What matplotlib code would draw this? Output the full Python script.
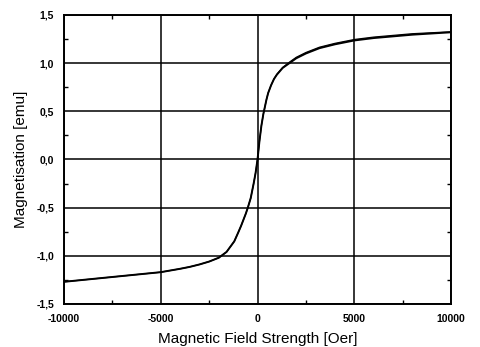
import numpy as np
import matplotlib
matplotlib.use("Agg")
import matplotlib.pyplot as plt
from matplotlib.ticker import FuncFormatter, MultipleLocator

# field (Oer) and magnetisation (emu)
field = [-10000, -8000, -6000, -5000, -4000, -3500, -3000, -2500, -2000, -1600,
         -1200, -1000, -850, -600, -500, -350, -200, -100, 0, 100, 200, 300,
         460, 550, 700, 850, 1000, 1300, 1650, 2000, 2500, 3200, 4000, 5000,
         6000, 8000, 10000]
m_up = [-1.27, -1.23, -1.19, -1.17, -1.135, -1.115, -1.09, -1.06, -1.02, -0.96,
        -0.85, -0.76, -0.69, -0.56, -0.50, -0.40, -0.25, -0.14, 0.0, 0.19, 0.35, 0.47,
        0.62, 0.69, 0.77, 0.835, 0.88, 0.95, 1.00, 1.05, 1.10, 1.155, 1.195, 1.235,
        1.26, 1.295, 1.32]
m_down = [-1.27, -1.23, -1.19, -1.17, -1.135, -1.115, -1.09, -1.06, -1.02, -0.96,
          -0.85, -0.76, -0.69, -0.56, -0.50, -0.40, -0.25, -0.14, 0.0, 0.19, 0.35, 0.47,
          0.62, 0.69, 0.77, 0.835, 0.885, 0.955, 1.01, 1.06, 1.11, 1.165, 1.205, 1.245,
          1.27, 1.305, 1.325]

plt.rcParams['font.family'] = ['Liberation Sans', 'DejaVu Sans']

fig = plt.figure(figsize=(4.8, 3.47), dpi=100)
ax = fig.add_axes([0.133, 0.124, 0.807, 0.833])

ax.plot(field, m_up, color='black', lw=1.4)
ax.plot(field, m_down, color='black', lw=0.9)

ax.set_xlim(-10000, 10000)
ax.set_ylim(-1.5, 1.5)
ax.set_xticks([-10000, -5000, 0, 5000, 10000])
ax.set_yticks([-1.5, -1.0, -0.5, 0.0, 0.5, 1.0, 1.5])
ax.xaxis.set_minor_locator(MultipleLocator(2500))
ax.yaxis.set_minor_locator(MultipleLocator(0.25))
ax.yaxis.set_major_formatter(FuncFormatter(lambda v, p: f"{v:.1f}".replace('.', ',')))
ax.xaxis.set_major_formatter(FuncFormatter(lambda v, p: f"{v:.0f}"))

ax.grid(True, which='major', color='black', lw=1.1)
ax.tick_params(which='both', direction='in', top=True, right=True, labelsize=7.5)
ax.tick_params(which='major', length=0, pad=7)
ax.tick_params(which='minor', length=3, width=1)
for lab in ax.get_xticklabels() + ax.get_yticklabels():
    lab.set_fontweight('bold')
for s in ax.spines.values():
    s.set_linewidth(1.4)

ax.set_xlabel("Magnetic Field Strength [Oer]", fontsize=11, labelpad=6)
ax.set_ylabel("Magnetisation [emu]", fontsize=11, labelpad=6)

fig.savefig("out.png", dpi=100)
